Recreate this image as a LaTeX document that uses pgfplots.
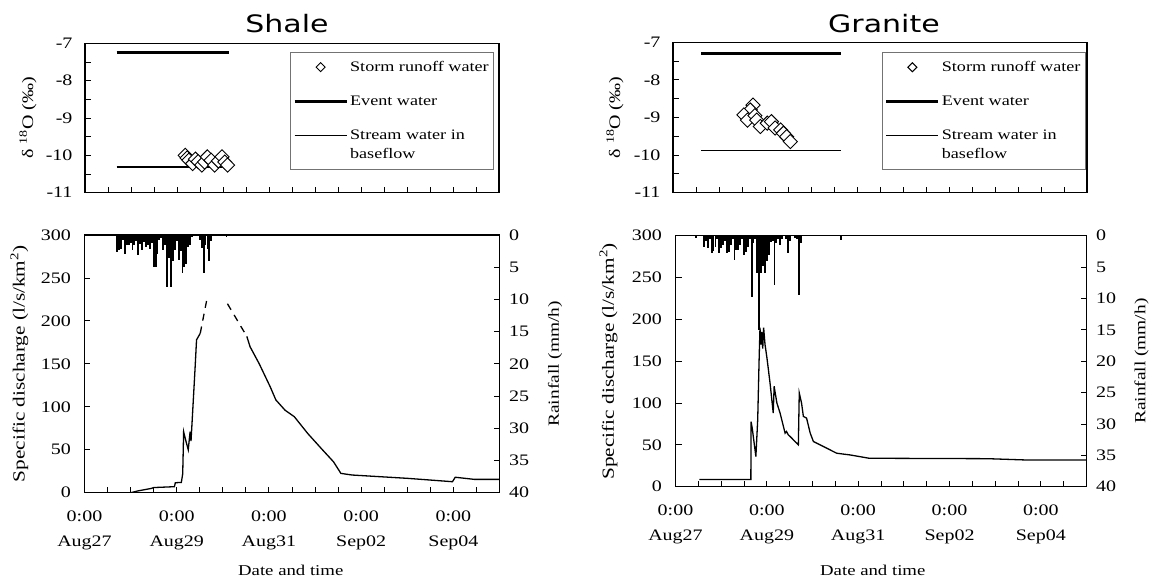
\documentclass[border=0pt]{standalone}
\usepackage{fontspec}
\setmainfont{Liberation Serif}[FakeStretch=1.25]
\newfontfamily\titlefont{DejaVu Sans}[FakeStretch=1.25]
\usepackage{pgfplots}
\pgfplotsset{compat=1.18}

\pgfplotsset{
  base/.style={
    scale only axis,
    xmin=0, xmax=9,
    axis line style={line width=1.1pt},
    every tick/.style={black, line width=0.9pt},
    tick align=inside,
    major tick length=6pt, minor tick length=6pt,
    /pgf/number format/assume math mode=true,
    ticklabel style={font=\fontsize{16}{19}\selectfont},
    legend image code/.code={\draw[mark repeat=2,mark phase=2,##1] plot coordinates {(0pt,0pt) (26pt,0pt) (52pt,0pt)};},
  },
  topaxis/.style={
    base,
    ymin=-11, ymax=-7, ytick={-11,-10,-9,-8,-7},
    minor ytick={-10.5,-9.5,-8.5,-7.5},
    xtick={0.5,1,...,8.5}, xticklabel=\empty,
    xtick pos=bottom, ytick pos=left,
    yticklabel style={xshift=-9pt},
    ylabel={δ \textsuperscript{18}O (‰)},
    legend cell align=left,
    legend style={draw=black!55, line width=0.6pt, font=\fontsize{14.5}{19}\selectfont,
      row sep=19pt, inner xsep=3pt, inner ysep=7pt, cells={align=left}},
  },
  botaxis/.style={
    base,
    ymin=0, ymax=300, ytick={0,50,...,300},
    ytick pos=left, xtick pos=bottom,
    xtick={0,2,4,6,8},
    xticklabels={{0:00\\Aug27},{0:00\\Aug29},{0:00\\Aug31},{0:00\\Sep02},{0:00\\Sep04}},
    minor xtick={0.5,1,1.5,2.5,3,3.5,4.5,5,5.5,6.5,7,7.5,8.5},
    xticklabel style={align=center, font=\fontsize{16}{25}\selectfont, yshift=-15pt},
    yticklabel style={xshift=-10pt},
    xlabel={Date and time},
    ylabel={Specific discharge (l/s/km\textsuperscript{2})},
  },
  rainaxis/.style={
    base,
    axis x line=none, axis y line*=right,
    ymin=0, ymax=40, y dir=reverse, ytick={0,5,...,40},
    ytick pos=right,
    yticklabel style={xshift=6pt},
    ylabel={Rainfall (mm/h)},
  },
  disc/.style={black, line width=1.3pt},
  rain/.style={ycomb, black, line width=1.9pt},
  dia/.style={only marks, mark=square*, mark size=5pt,
    mark options={rotate=45, fill=white, draw=black, line width=0.9pt}},
}

\begin{document}
\begin{tikzpicture}[x=1pt,y=1pt]
\useasboundingbox (0,0) rectangle (1159,582);
\node[font=\titlefont\fontsize{24}{28}\selectfont] at (287,558.7) {Shale};
\node[font=\titlefont\fontsize{24}{28}\selectfont] at (884,558.7) {Granite};

% ---------------- Shale top
\begin{axis}[topaxis, at={(85pt,389.3pt)}, anchor=south west, width=414pt, height=149.4pt,
  every axis y label/.style={at={(axis description cs:-0.138,0.5)}, rotate=90, anchor=center, font=\fontsize{16}{19}\selectfont},
  legend style={at={(axis description cs:0.988,0.942)}, anchor=north east}]
\addplot[black, line width=3pt, forget plot] coordinates {(0.69,-7.24) (3.12,-7.24)};
\addplot[black, line width=1.3pt, forget plot] coordinates {(0.69,-10.31) (3.12,-10.31)};
\addplot[dia, forget plot] table {
x y
2.18 -10.00
2.22 -10.07
2.26 -10.13
2.34 -10.22
2.40 -10.10
2.46 -10.17
2.54 -10.26
2.60 -10.18
2.66 -10.04
2.74 -10.13
2.82 -10.26
2.90 -10.15
2.98 -10.04
3.04 -10.18
3.10 -10.26
};
\addlegendimage{only marks, mark=square, mark size=3.2pt, mark options={rotate=45, line width=1pt}}
\addlegendentry{Storm runoff water}
\addlegendimage{black, line width=3pt}
\addlegendentry{Event water}
\addlegendimage{black, line width=1.3pt, yshift=9.5pt}
\addlegendentry{Stream water in\\baseflow}
\end{axis}

% ---------------- Shale bottom
\begin{axis}[botaxis, at={(84.5pt,89.3pt)}, anchor=south west, width=415pt, height=257.7pt,
  xlabel style={at={(axis description cs:0.497,-0.30)}, anchor=center, font=\fontsize{15}{18}\selectfont},
  every axis y label/.style={at={(axis description cs:-0.157,0.5)}, rotate=90, anchor=center, font=\fontsize{17}{20}\selectfont}]
\addplot[disc] table {
x y
0.25 0
1.00 0
1.15 2
1.45 5
1.50 6
1.95 7
1.97 11.6
2.10 12
2.13 22
2.15 71
2.20 60
2.25 50
2.29 71
2.31 60
2.36 108
2.40 147
2.43 178
2.51 185.5
};
\addplot[disc, dash pattern=on 7pt off 6pt] coordinates {(2.51,185.5) (2.65,224)};
\addplot[disc, dash pattern=on 7pt off 6pt] coordinates {(3.10,220) (3.52,182)};
\addplot[disc] table {
x y
3.52 182
3.59 170
3.79 150
4.03 123
4.15 108
4.35 96
4.55 88.5
4.84 69
5.16 50
5.40 36
5.56 22.5
5.80 20.6
7.01 16.7
7.98 12.8
8.04 18
8.46 15.5
9.00 15.5
};
\end{axis}
\begin{axis}[rainaxis, at={(84.5pt,89.3pt)}, anchor=south west, width=415pt, height=257.7pt,
  every axis y label/.style={at={(axis description cs:1.134,0.5)}, rotate=90, anchor=center, font=\fontsize{15.5}{18}\selectfont}]
\addplot[rain] table {
x y
0.708 2.6
0.750 2.4
0.792 2.1
0.833 0.8
0.875 2.9
0.917 1.5
0.958 1.6
1.000 1.2
1.042 2.3
1.083 1.5
1.125 1.0
1.167 3.1
1.208 1.4
1.250 2.3
1.292 1.1
1.333 1.8
1.375 1.5
1.417 2.1
1.458 1.2
1.500 4.9
1.542 4.9
1.583 3.0
1.625 0.8
1.667 0.5
1.708 2.3
1.750 1.5
1.792 8.0
1.833 3.5
1.875 8.0
1.917 4.0
1.958 2.3
2.000 1.0
2.042 3.9
2.083 2.5
2.125 5.9
2.167 4.9
2.208 4.5
2.250 1.8
2.292 1.5
2.333 0.3
2.458 0.2
2.500 0.8
2.542 2.0
2.583 5.9
2.625 1.5
2.667 2.1
2.708 4.0
2.750 1.0
3.080 0.3
};
\end{axis}

% ---------------- Granite top
\begin{axis}[topaxis, at={(673pt,389.3pt)}, anchor=south west, width=414pt, height=150.4pt,
  every axis y label/.style={at={(axis description cs:-0.14,0.5)}, rotate=90, anchor=center, font=\fontsize{16}{19}\selectfont},
  legend style={at={(axis description cs:0.997,0.935)}, anchor=north east}]
\addplot[black, line width=3pt, forget plot] coordinates {(0.61,-7.29) (3.65,-7.29)};
\addplot[black, line width=1.3pt, forget plot] coordinates {(0.61,-9.88) (3.65,-9.88)};
\addplot[dia, forget plot] table {
x y
1.74 -8.67
1.68 -8.80
1.54 -8.93
1.62 -9.07
1.78 -8.95
1.82 -9.07
1.90 -9.24
2.05 -9.15
2.14 -9.11
2.22 -9.28
2.34 -9.33
2.40 -9.42
2.47 -9.51
2.55 -9.64
};
\addlegendimage{only marks, mark=square, mark size=3.2pt, mark options={rotate=45, line width=1pt}}
\addlegendentry{Storm runoff water}
\addlegendimage{black, line width=3pt}
\addlegendentry{Event water}
\addlegendimage{black, line width=1.3pt, yshift=9.5pt}
\addlegendentry{Stream water in\\baseflow}
\end{axis}

% ---------------- Granite bottom
\begin{axis}[botaxis, at={(675.5pt,95.3pt)}, anchor=south west, width=411pt, height=251pt,
  xlabel style={at={(axis description cs:0.48,-0.332)}, anchor=center, font=\fontsize{15}{18}\selectfont},
  every axis y label/.style={at={(axis description cs:-0.163,0.5)}, rotate=90, anchor=center, font=\fontsize{17}{20}\selectfont}]
\addplot[disc] table {
x y
0.52 8.5
1.65 8.5
1.655 77.7
1.68 70
1.76 36
1.80 80
1.83 150
1.85 190
1.87 170
1.89 185
1.91 165
1.93 190
1.96 170
2.00 155
2.07 124
2.14 88
2.16 120
2.22 100
2.29 88
2.40 64
2.43 66
2.47 62
2.51 60
2.69 50
2.71 112
2.76 100
2.80 84
2.87 82
2.95 64
3.02 54
3.24 48
3.53 40
3.82 38
4.24 34
6.83 33.5
7.64 32
9.00 32
};
\end{axis}
\begin{axis}[rainaxis, at={(675.5pt,95.3pt)}, anchor=south west, width=411pt, height=251pt,
  every axis y label/.style={at={(axis description cs:1.134,0.5)}, rotate=90, anchor=center, font=\fontsize{15.5}{18}\selectfont}]
\addplot[rain] table {
x y
0.458 0.4
0.625 1.75
0.667 0.8
0.708 2.0
0.750 0.5
0.792 2.8
0.833 2.5
0.875 1.75
0.917 0.5
0.958 2.8
1.000 2.0
1.042 1.5
1.083 0.8
1.125 2.8
1.167 2.6
1.208 1.5
1.250 0.5
1.292 3.9
1.333 2.3
1.375 2.3
1.417 1.5
1.458 0.6
1.500 3.1
1.542 2.6
1.583 1.75
1.625 0.5
1.667 9.7
1.708 1.2
1.750 0.5
1.792 6.0
1.833 15
1.875 6.0
1.917 4.9
1.958 6.0
2.000 4.0
2.042 3.1
2.083 1.0
2.125 0.8
2.167 7.9
2.208 1.2
2.250 0.5
2.292 1.5
2.333 0.5
2.417 0.5
2.458 2.8
2.500 0.8
2.625 0.3
2.667 0.5
2.708 9.5
2.750 1.2
3.625 0.7
};
\end{axis}
\end{tikzpicture}
\end{document}
